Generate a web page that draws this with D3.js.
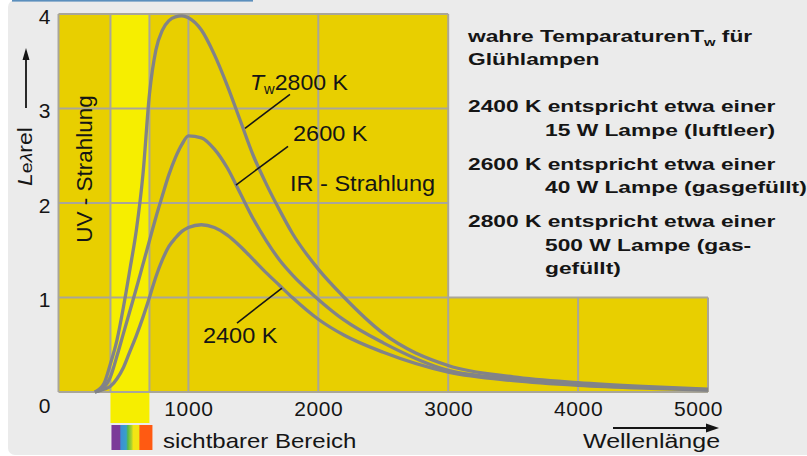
<!DOCTYPE html>
<html><head><meta charset="utf-8">
<script src="https://cdn.jsdelivr.net/npm/d3@7"></script>
<style>body{margin:0;background:#fff}svg{display:block}</style>
</head><body><svg id="c" width="807" height="456"></svg>
<script>
// ---- data ----
const wavelengths = [280, 350, 400, 450, 500, 550, 600, 650, 700, 750, 800, 850, 900, 950, 1000, 1100, 1200, 1300, 1400, 1500, 1600, 1700, 1800, 2000, 2200, 2500, 3000, 3500, 4000, 4500, 5000];
const L2800 = [0, 0.09, 0.3, 0.55, 0.9, 1.3, 1.72, 2.3, 3.15, 3.62, 3.83, 3.93, 3.97, 3.98, 3.96, 3.83, 3.57, 3.24, 2.87, 2.5, 2.2, 1.93, 1.68, 1.3, 1.0, 0.62, 0.28, 0.16, 0.1, 0.06, 0.03];
const L2600 = [0, 0.05, 0.16, 0.38, 0.62, 0.86, 1.1, 1.35, 1.6, 1.85, 2.08, 2.3, 2.48, 2.62, 2.71, 2.69, 2.57, 2.37, 2.1, 1.83, 1.6, 1.4, 1.24, 0.98, 0.76, 0.52, 0.23, 0.14, 0.08, 0.05, 0.025];
const L2400 = [0, 0.03, 0.06, 0.14, 0.26, 0.43, 0.6, 0.79, 1.0, 1.22, 1.4, 1.54, 1.63, 1.7, 1.74, 1.77, 1.74, 1.66, 1.54, 1.4, 1.26, 1.13, 1.0, 0.77, 0.6, 0.42, 0.21, 0.12, 0.07, 0.04, 0.02];
const xTicks = [1000, 2000, 3000, 4000, 5000];
const yTicks = [1, 2, 3, 4];
const visibleRange = [400, 700];
const legendLines = [
  ["wahre TemparaturenT", "w", " für"],
  ["Glühlampen"],
  ["2400 K entspricht etwa einer"],
  ["15 W Lampe (luftleer)"],
  ["2600 K entspricht etwa einer"],
  ["40 W Lampe (gasgefüllt)"],
  ["2800 K entspricht etwa einer"],
  ["500 W Lampe (gas-"],
  ["gefüllt)"]
];

// ---- layout ----
const svg = d3.select("#c");
const FONT = "'Liberation Sans', Arial, Helvetica, sans-serif";
const x = d3.scaleLinear().domain([0, 5000]).range([58.5, 708]);
const y = d3.scaleLinear().domain([0, 4]).range([392, 14]);
const YEL = "#e8cf00", YEL2 = "#f6ee00", GRID = "#a9a699", CURVE = "#828387", INK = "#151515";

svg.append("rect").attr("x", 8).attr("y", 0).attr("width", 820).attr("height", 455).attr("rx", 7).attr("fill", "#ebebeb");
svg.append("rect").attr("x", 12).attr("y", 0).attr("width", 241).attr("height", 1.6).attr("fill", "#5b8fbd");

// yellow regions
svg.append("rect").attr("x", x(0)).attr("y", y(4)).attr("width", x(3000) - x(0)).attr("height", y(0) - y(4)).attr("fill", YEL);
svg.append("rect").attr("x", x(3000)).attr("y", y(1)).attr("width", x(5000) - x(3000)).attr("height", y(0) - y(1)).attr("fill", YEL);
svg.append("rect").attr("x", x(visibleRange[0])).attr("y", y(4)).attr("width", x(visibleRange[1]) - x(visibleRange[0])).attr("height", y(0) - y(4) + 31).attr("fill", YEL2);

// spectrum strip
const grad = svg.append("defs").append("linearGradient").attr("id", "spec");
[["0", "#7b3a98"], ["0.2", "#7b3a98"], ["0.23", "#3a8fd5"], ["0.36", "#3a9fc8"], ["0.4", "#56b947"], ["0.5", "#b8d62a"], ["0.53", "#f3e514"], ["0.66", "#f3e514"], ["0.7", "#ff5a12"], ["1", "#ff5a12"]]
  .forEach(s => grad.append("stop").attr("offset", s[0]).attr("stop-color", s[1]));
svg.append("rect").attr("x", x(visibleRange[0]) + 1).attr("y", 425).attr("width", x(visibleRange[1]) - x(visibleRange[0]) + 2).attr("height", 25).attr("fill", "url(#spec)");

// grid
const g = svg.append("g").attr("stroke", GRID).attr("stroke-width", 2).attr("fill", "none");
[0, 400, 700, 1000, 2000, 3000].forEach(v => g.append("line").attr("x1", x(v)).attr("x2", x(v)).attr("y1", y(4)).attr("y2", y(0)));
[4000, 5000].forEach(v => g.append("line").attr("x1", x(v)).attr("x2", x(v)).attr("y1", y(1)).attr("y2", y(0)));
[0, 1].forEach(v => g.append("line").attr("x1", x(0)).attr("x2", x(5000)).attr("y1", y(v)).attr("y2", y(v)));
[2, 3, 4].forEach(v => g.append("line").attr("x1", x(0)).attr("x2", x(3000)).attr("y1", y(v)).attr("y2", y(v)));

// curves
const line = d3.line().x(d => x(d[0])).y(d => y(d[1])).curve(d3.curveMonotoneX);
[L2400, L2600, L2800].forEach(s => {
  svg.append("path").attr("d", line(wavelengths.map((w, i) => [w, s[i]])))
    .attr("fill", "none").attr("stroke", CURVE).attr("stroke-width", 3.3).attr("stroke-linejoin", "round");
});

// axes
const ax = svg.append("g").attr("transform", `translate(0,${y(0)})`)
  .call(d3.axisBottom(x).tickValues(xTicks).tickFormat(d3.format("d")).tickSize(0).tickPadding(9));
ax.select(".domain").remove();
ax.selectAll("text").attr("font-family", FONT).attr("font-size", 21).attr("fill", INK).attr("letter-spacing", 0.6)
  .attr("dx", d => d === 5000 ? -10 : 0);
const ay = svg.append("g").attr("transform", `translate(${x(0)},0)`)
  .call(d3.axisLeft(y).tickValues(yTicks).tickFormat(d3.format("d")).tickSize(0).tickPadding(8));
ay.select(".domain").remove();
ay.selectAll("text").attr("font-family", FONT).attr("font-size", 21).attr("fill", INK).attr("dy", "0.45em");
svg.append("text").attr("x", 50.5).attr("y", 413).attr("text-anchor", "end").attr("font-family", FONT).attr("font-size", 21).attr("fill", INK).text("0");

// helper for (possibly stretched / rotated) text
function stext(px, py, sx, rot, size, weight) {
  return svg.append("text").attr("transform", `translate(${px},${py}) rotate(${rot || 0}) scale(${sx},1)`)
    .attr("font-family", FONT).attr("font-size", size).attr("font-weight", weight || "normal").attr("fill", INK);
}

// y axis title with arrow
const yt = stext(32, 186, 1.15, -90, 20);
yt.append("tspan").attr("font-style", "italic").text("L");
yt.append("tspan").attr("font-size", 17).text("e");
yt.append("tspan").attr("font-size", 17).attr("font-style", "italic").text("λ");
yt.append("tspan").text("rel");
svg.append("line").attr("x1", 26).attr("x2", 26).attr("y1", 108).attr("y2", 58).attr("stroke", INK).attr("stroke-width", 1.8);
svg.append("path").attr("d", "M26,48 L22.5,60 L29.5,60 Z").attr("fill", INK);

// region labels
stext(x(258), y(2.36), 1, -90, 22.5).attr("text-anchor", "middle").text("UV - Strahlung");
stext(x(1782), y(2.13), 1.07, 0, 22).text("IR - Strahlung");

// curve labels
const t28 = stext(x(1474), y(3.2), 1.05, 0, 22);
t28.append("tspan").attr("font-style", "italic").text("T");
t28.append("tspan").attr("font-size", 14).attr("dy", 4).text("w");
t28.append("tspan").attr("dy", -4).text("2800 K");
stext(x(1805), y(2.66), 1.07, 0, 22).text("2600 K");
stext(x(1112), y(0.52), 1.07, 0, 22).text("2400 K");

// leader lines
const leaders = [[[1782, 3.15], [1436, 2.79]], [[1767, 2.60], [1366, 2.19]], [[1374, 0.73], [1720, 1.10]]];
leaders.forEach(l => svg.append("line").attr("x1", x(l[0][0])).attr("y1", y(l[0][1])).attr("x2", x(l[1][0])).attr("y2", y(l[1][1]))
  .attr("stroke", INK).attr("stroke-width", 1.6));

// bottom labels
stext(163, 448, 1.2, 0, 20).text("sichtbarer Bereich");
stext(583, 448, 1.25, 0, 20).text("Wellenlänge");
svg.append("line").attr("x1", 613).attr("x2", 708).attr("y1", 428).attr("y2", 428).attr("stroke", INK).attr("stroke-width", 2);
svg.append("path").attr("d", "M719,428 L706,423.5 L706,432.5 Z").attr("fill", INK);

// legend
const legBase = [42, 65, 112, 136, 170, 193, 227, 251, 274];
const legIndent = [false, false, false, true, false, true, false, true, true];
legendLines.forEach((parts, i) => {
  const t = stext(legIndent[i] ? 545 : 468, legBase[i], 1.34, 0, 17, "bold");
  if (parts.length === 3) {
    t.append("tspan").text(parts[0]);
    t.append("tspan").attr("font-size", 11).attr("dy", 4).text(parts[1]);
    t.append("tspan").attr("dy", -4).text(parts[2]);
  } else t.text(parts[0]);
});
</script></body></html>
